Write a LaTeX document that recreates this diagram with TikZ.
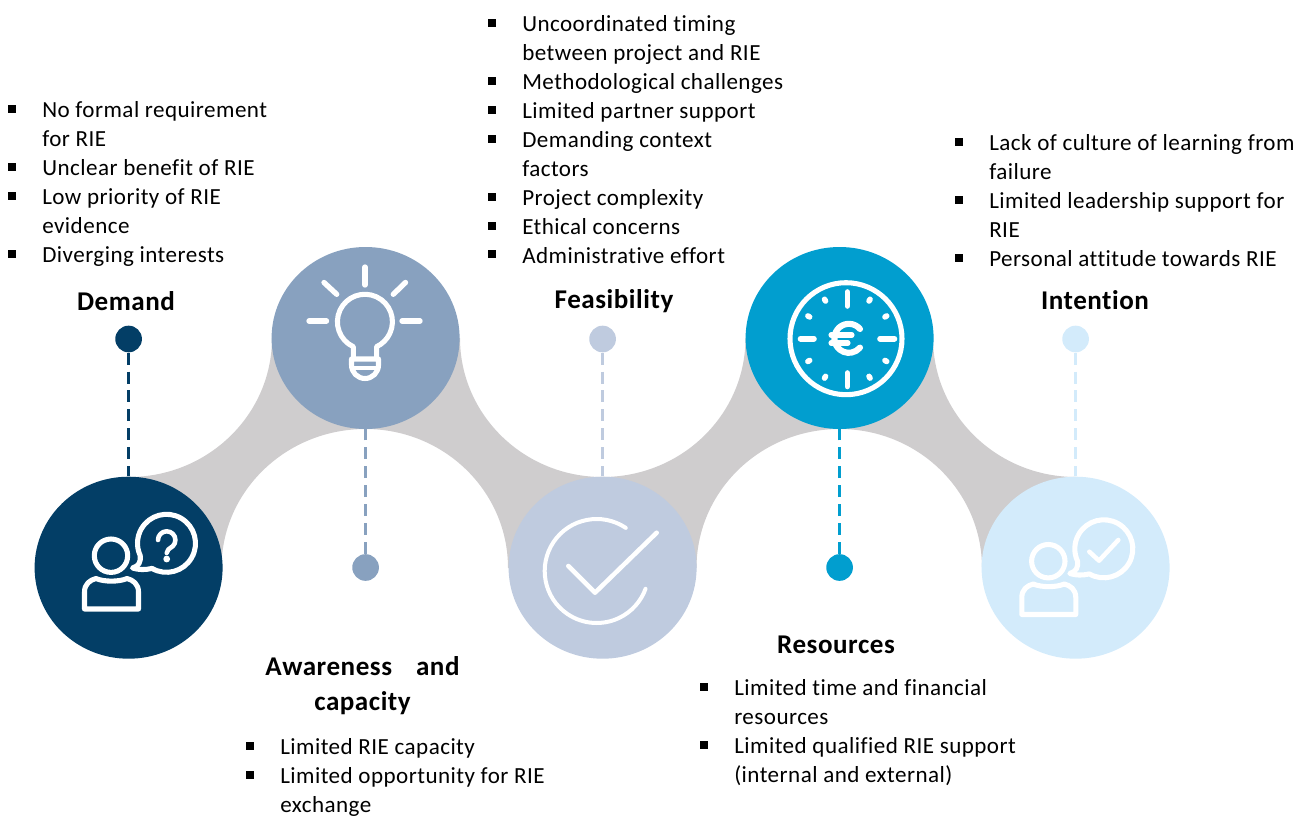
\documentclass[tikz,border=0pt]{standalone}
\usepackage{fontspec}
\setmainfont[LetterSpace=2,Ligatures=NoCommon]{Carlito}
\usetikzlibrary{shapes.geometric}
\definecolor{cnavy}{HTML}{033E66}
\definecolor{csteel}{HTML}{88A1BF}
\definecolor{cpale}{HTML}{BFCBDF}
\definecolor{cblue}{HTML}{019ECF}
\definecolor{csky}{HTML}{D3EBFB}
\definecolor{cgrey}{HTML}{CFCDCE}
\newcommand\bul{\leavevmode\llap{\rule[3.6pt]{6pt}{6pt}\hspace{19.5pt}}}
\tikzset{
  x=0.75pt,y=0.75pt,
  bigcirc/.style={ellipse,minimum width=141pt,minimum height=136.5pt,inner sep=0pt,fill=#1},
  dotnode/.style={circle,minimum size=20pt,inner sep=0pt,fill=#1},
  link/.style={draw=#1,line width=2.3pt,dash pattern=on 9pt off 5.2pt},
  listtext/.style={anchor=north west,inner sep=0pt,align=left,font=\fontsize{17.3}{21.7}\selectfont},
  headtext/.style={anchor=center,inner sep=0pt,align=center,font=\fontsize{20.3}{26.2}\selectfont\bfseries},
  ico/.style={draw=white,line width=3.8pt,line cap=round,line join=round},
}
\newcommand\personbubble{%
  \draw[ico] (111,-555.7) circle[radius=16.7];
  \draw[ico] (84.5,-609) -- (84.5,-592) .. controls (84.5,-584) and (90,-580) .. (96,-578.5)
     .. controls (104,-582) and (119,-582) .. (127,-578.5)
     .. controls (133,-580) and (138.5,-584) .. (138.5,-592) -- (138.5,-609) -- cycle;
  \draw[ico] (166.5,-543.3) ++(240:29) arc[start angle=240,end angle=565,radius=29]
     .. controls (141,-562) and (139,-566) .. (132.5,-568) .. controls (139,-570) and (145,-570) .. (152.2,-568.4);
}
\begin{document}
\begin{tikzpicture}
\useasboundingbox (0,0) rectangle (1307,-817);
% ribbon
\fill[cgrey] (129,-477) arc[start angle=-90,end angle=0,x radius=143,y radius=139]
  -- (460,-338) arc[start angle=180,end angle=270,x radius=142.5,y radius=139]
  arc[start angle=-90,end angle=0,x radius=143,y radius=139]
  -- (933,-338) arc[start angle=180,end angle=270,x radius=143,y radius=139]
  -- (1076,-568) -- (982,-568) arc[start angle=0,end angle=90,x radius=142.5,y radius=139]
  arc[start angle=90,end angle=180,x radius=143,y radius=139]
  -- (508,-568) arc[start angle=0,end angle=90,x radius=142.5,y radius=139]
  arc[start angle=90,end angle=180,x radius=144,y radius=139]
  -- (129,-568) -- cycle;
% big circles
\node[bigcirc=cnavy]  (c1) at (128.6,-567.7) {};
\node[bigcirc=csteel] (c2) at (365.6,-338) {};
\node[bigcirc=cpale]  (c3) at (602.6,-567.7) {};
\node[bigcirc=cblue]  (c4) at (839.6,-338) {};
\node[bigcirc=csky]   (c5) at (1075.6,-567.7) {};
% dots
\node[dotnode=cnavy]  (d1) at (128.6,-339) {};
\node[dotnode=csteel] (d2) at (365.6,-567.5) {};
\node[dotnode=cpale]  (d3) at (602.6,-339) {};
\node[dotnode=cblue]  (d4) at (839.6,-567.5) {};
\node[dotnode=csky]   (d5) at (1075.6,-339) {};
% connectors
\draw[link=cnavy]  (d1.south) -- (c1.north);
\draw[link=csteel] (d2.north) -- (c2.south);
\draw[link=cpale]  (d3.south) -- (c3.north);
\draw[link=cblue]  (d4.north) -- (c4.south);
\draw[link=csky]   (d5.south) -- (c5.north);
% icon 1
\personbubble
\draw[ico,line width=3.4pt] (158,-540) arc[start angle=180,end angle=-45,radius=8.7]
   .. controls (169,-549) and (166.7,-550) .. (166.7,-553);
\fill[white] (166.7,-559) circle[radius=3.4];
% icon 2: bulb
\draw[ico] (353.3,-358) -- (353.3,-346.7) arc[start angle=245,end angle=-65,radius=27.5] -- (376.7,-358);
\draw[ico] (351.5,-359) -- (351.5,-365) arc[start angle=180,end angle=360,radius=13.5] -- (378.5,-359) -- cycle;
\draw[ico,line width=2.2pt,line cap=butt] (352,-359.5) -- (378,-359.5);
\draw[ico,line cap=butt,line width=2.6pt] (352,-368) -- (378,-368);
\draw[ico,line width=4pt] (365,-267) -- (365,-285);
\draw[ico,line width=4pt] (324,-282.5) -- (336.7,-294.3);
\draw[ico,line width=4pt] (405.5,-282.5) -- (393.3,-294.3);
\draw[ico,line width=4pt] (309,-321) -- (326.5,-321);
\draw[ico,line width=4pt] (402,-321) -- (420,-321);
% icon 3: check
\draw[ico,line width=3pt] (596.7,-571) ++(56:52) arc[start angle=56,end angle=340,radius=52];
\draw[ico,line width=3.4pt] (568.3,-566) -- (595,-592.7) -- (656.7,-532.7);
% icon 4: clock
\draw[ico] (846,-338.7) circle[radius=56];
\draw[ico,line width=4.2pt] (847.3,-292) -- (847.3,-306);
\draw[ico,line width=4.2pt] (847.3,-373) -- (847.3,-386.5);
\draw[ico,line width=4.2pt] (800.5,-338.7) -- (814,-338.7);
\draw[ico,line width=4.2pt] (880,-338.7) -- (894.5,-338.7);
\foreach \a in {30,60,120,150,210,240,300,330}
  \draw[ico,line width=4.2pt] (847.3,-338.7) ++(\a:43.5) -- ++(\a:2);
\draw[ico,line width=4.6pt] (860,-329) arc[start angle=40,end angle=320,radius=14.5];
\draw[ico,line width=3.8pt] (831,-335) -- (852,-335);
\draw[ico,line width=3.8pt] (831,-343) -- (848,-343);
% icon 5
\begin{scope}[shift={(937.3,-5.5)}]
\personbubble
\end{scope}
\draw[ico,line width=3.4pt] (1089.3,-551.7) -- (1099,-560.7) -- (1118.3,-540);
% headings
\node[headtext] (h1) at (126,-301) {Demand};
\node[headtext] (h2) at (362.5,-685.5) {Awareness\hspace{13pt} and\\capacity};
\node[headtext] (h3) at (614,-301.5) {Feasibility};
\node[headtext] (h4) at (836,-644.5) {Resources};
\node[headtext] (h5) at (1095,-300) {Intention};
% lists
\node[listtext] (l1) at (42,-101.7) {\bul No formal requirement\\for RIE\\\bul Unclear benefit of RIE\\\bul Low priority of RIE\\evidence\\\bul Diverging interests};
\node[listtext] (l2) at (280,-738.5) {\bul Limited RIE capacity\\\bul Limited opportunity for RIE\\exchange};
\node[listtext] (l3) at (522,-15.5) {\bul Uncoordinated timing\\between project and RIE\\\bul Methodological challenges\\\bul Limited partner support\\\bul Demanding context\\factors\\\bul Project complexity\\\bul Ethical concerns\\\bul Administrative effort};
\node[listtext] (l4) at (734,-679.5) {\bul Limited time and financial\\resources\\\bul Limited qualified RIE support\\(internal and external)};
\node[listtext] (l5) at (989,-134.5) {\bul Lack of culture of learning from\\failure\\\bul Limited leadership support for\\RIE\\\bul Personal attitude towards RIE};
\end{tikzpicture}
\end{document}
